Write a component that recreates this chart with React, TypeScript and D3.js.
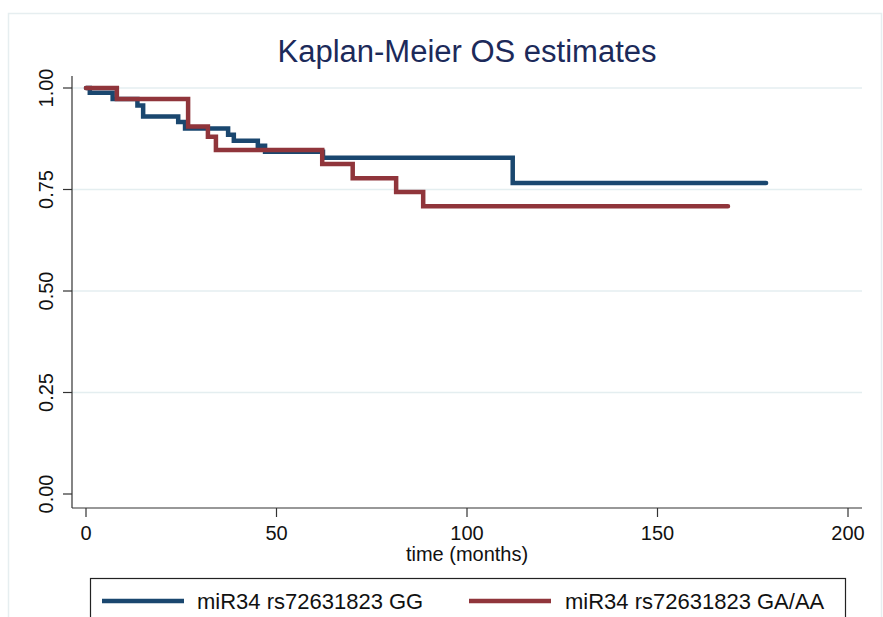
import React from "react";
import * as d3 from "d3";

// Kaplan-Meier step data (months, survival)
const ggTimes = [0, 1, 7, 13.5, 15, 24.2, 26, 37.3, 38.8, 45.1, 47, 62.2, 112, 178.5];
const ggSurv = [1.0, 0.988, 0.973, 0.957, 0.93, 0.916, 0.9, 0.885, 0.87, 0.858, 0.843, 0.828, 0.766, 0.766];

const gaTimes = [0, 8.1, 26.8, 32, 34.1, 62, 70, 81.4, 88.5, 168.5];
const gaSurv = [1.0, 0.973, 0.905, 0.88, 0.847, 0.813, 0.778, 0.744, 0.709, 0.709];

const xTicks = [0, 50, 100, 150, 200];
const yTicks = [0, 0.25, 0.5, 0.75, 1];
const gridTicks = [0.25, 0.5, 0.75, 1];

const seriesNames = ["miR34 rs72631823 GG", "miR34 rs72631823 GA/AA"];
const seriesColors = ["#1a476f", "#90353b"];

const W = 883, H = 617;
const plot = { left: 72, right: 862, top: 76, bottom: 508 };
const font = "'Liberation Sans', Arial, sans-serif";

export default function App() {
  const x = d3.scaleLinear().domain([0, 200]).range([86, 848]);
  const y = d3.scaleLinear().domain([0, 1]).range([494, 88]);

  const line = d3.line<[number, number]>()
    .x(d => x(d[0]))
    .y(d => y(d[1]))
    .curve(d3.curveStepAfter);

  const gg = ggTimes.map((t, i) => [t, ggSurv[i]] as [number, number]);
  const ga = gaTimes.map((t, i) => [t, gaSurv[i]] as [number, number]);

  return (
    <svg width={W} height={H} style={{ position: "absolute", left: 0, top: 0, background: "#fff" }} fontFamily={font}>
      <rect x={8.5} y={13.5} width={873} height={640} fill="#fff" stroke="#e6eef0" strokeWidth={1.5} />

      <text x={467} y={62} textAnchor="middle" fontSize={31} fill="#1c2a5a">Kaplan-Meier OS estimates</text>

      {gridTicks.map(t => (
        <line key={"g" + t} x1={plot.left} x2={plot.right} y1={y(t)} y2={y(t)} stroke="#e4eef0" strokeWidth={1.5} />
      ))}

      {/* axes */}
      <line x1={plot.left} x2={plot.left} y1={plot.top} y2={plot.bottom} stroke="#333" strokeWidth={1.2} />
      <line x1={plot.left} x2={plot.right} y1={plot.bottom} y2={plot.bottom} stroke="#333" strokeWidth={1.2} />

      {yTicks.map(t => (
        <g key={"y" + t}>
          <line x1={plot.left - 9} x2={plot.left} y1={y(t)} y2={y(t)} stroke="#333" strokeWidth={1.2} />
          <text transform={`translate(53,${y(t)}) rotate(-90)`} textAnchor="middle" fontSize={20} fill="#111">
            {d3.format(".2f")(t)}
          </text>
        </g>
      ))}

      {xTicks.map(t => (
        <g key={"x" + t}>
          <line x1={x(t)} x2={x(t)} y1={plot.bottom} y2={plot.bottom + 9} stroke="#333" strokeWidth={1.2} />
          <text x={x(t)} y={540} textAnchor="middle" fontSize={20} fill="#111">{t}</text>
        </g>
      ))}

      <text x={467} y={561} textAnchor="middle" fontSize={20} fill="#111">time (months)</text>

      <path d={line(gg) || ""} fill="none" stroke={seriesColors[0]} strokeWidth={4.5} strokeLinecap="round" />
      <path d={line(ga) || ""} fill="none" stroke={seriesColors[1]} strokeWidth={4.5} strokeLinecap="round" />

      {/* legend */}
      <rect x={90.5} y={578.5} width={755} height={60} fill="#fff" stroke="#222" strokeWidth={1.2} />
      <line x1={102} x2={184} y1={601} y2={601} stroke={seriesColors[0]} strokeWidth={4.5} />
      <text x={197} y={609} fontSize={22} fill="#111">{seriesNames[0]}</text>
      <line x1={469} x2={551} y1={601} y2={601} stroke={seriesColors[1]} strokeWidth={4.5} />
      <text x={565} y={609} fontSize={22} fill="#111">{seriesNames[1]}</text>
    </svg>
  );
}
